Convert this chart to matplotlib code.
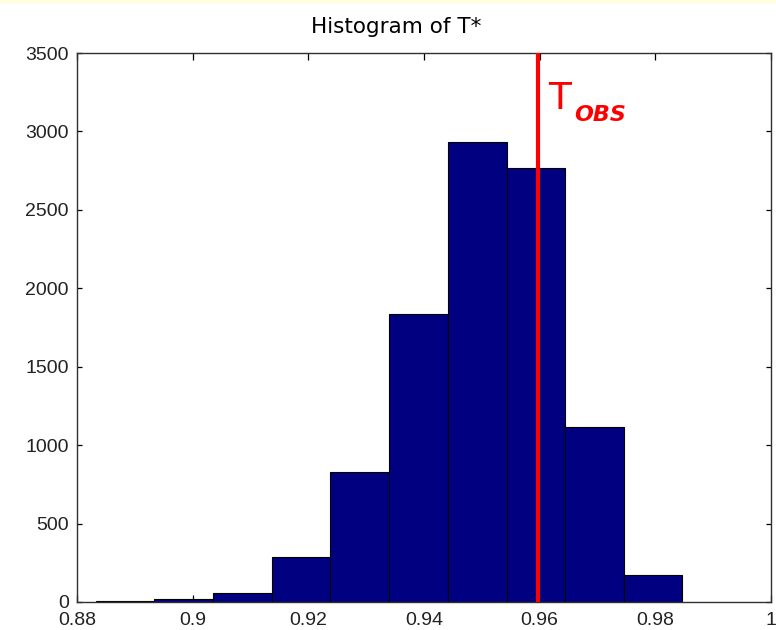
import matplotlib
matplotlib.use("Agg")
import matplotlib.pyplot as plt
from matplotlib.patches import Rectangle
import numpy as np

# histogram of bootstrap statistic T*
bin_edges = [0.8833, 0.8934, 0.9036, 0.9137, 0.9238, 0.9340,
             0.9441, 0.9543, 0.9644, 0.9745, 0.9846]
counts = [8, 18, 58, 290, 826, 1834, 2932, 2768, 1113, 170]
t_obs = 0.9597
x_ticks = [0.88, 0.9, 0.92, 0.94, 0.96, 0.98, 1.0]
x_labels = ["0.88", "0.9", "0.92", "0.94", "0.96", "0.98", "1"]
y_ticks = [0, 500, 1000, 1500, 2000, 2500, 3000, 3500]

plt.rcParams["font.family"] = ["Liberation Sans", "DejaVu Sans"]
fig = plt.figure(figsize=(7.76, 6.3), dpi=100)
fig.patch.set_facecolor("white")
fig.patches.append(Rectangle((0, 1 - 4 / 630), 1, 4 / 630, transform=fig.transFigure,
                             facecolor="#fffde2", edgecolor="none", zorder=0))
ax = fig.add_axes([77 / 776, 28 / 630, 694 / 776, 549 / 630])

edges = np.array(bin_edges)
ax.bar(edges[:-1], counts, width=np.diff(edges), align="edge",
       color="#000080", edgecolor="black", linewidth=0.8, zorder=2)
ax.axvline(t_obs, color="#ff0000", linewidth=3, zorder=3)

ax.set_xlim(0.88, 1.0)
ax.set_ylim(0, 3500)
ax.set_xticks(x_ticks)
ax.set_xticklabels(x_labels)
ax.set_yticks(y_ticks)
ax.tick_params(axis="both", direction="in", top=True, right=True,
               labelsize=14, color="black", width=0.9, labelcolor="#222222")
ax.tick_params(axis="x", length=5, pad=7)
ax.tick_params(axis="y", length=3.5, pad=6)
for s in ax.spines.values():
    s.set_linewidth(1.0)
    s.set_color("#303030")

fig.text(396 / 776, 1 - 27 / 630, "Histogram of T*", ha="center", va="center",
         fontsize=15.5, family=["DejaVu Sans"])
fig.text(548 / 776, 1 - 109 / 630, "T", color="#ff0000", fontsize=27,
         family=["DejaVu Sans"], ha="left", va="baseline")
fig.text(574 / 776, 1 - 121 / 630, "OBS", color="#ff0000", fontsize=16,
         fontweight="bold", style="italic", family=["DejaVu Sans"],
         ha="left", va="baseline")

fig.savefig("out.png", dpi=100)
